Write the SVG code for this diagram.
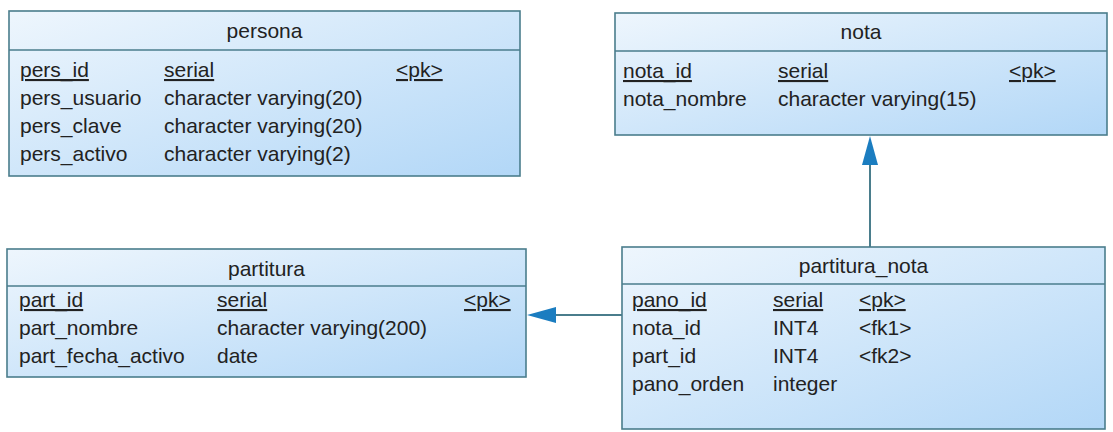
<svg xmlns="http://www.w3.org/2000/svg" width="1113" height="432" viewBox="0 0 1113 432">
<defs>
<linearGradient id="bg" x1="0" y1="0" x2="1" y2="1">
<stop offset="0" stop-color="#eef6fd"/>
<stop offset="1" stop-color="#b2d7f7"/>
</linearGradient>
<style>
.box{fill:url(#bg);stroke:#4a7d8c;stroke-width:1.6}
.div{stroke:#4a7d8c;stroke-width:1.6}
text{font-family:"Liberation Sans",Arial,sans-serif;font-size:21px;fill:#222}
.t{text-anchor:middle}
.u{text-decoration:underline}
.conn{stroke:#4a7d8c;stroke-width:2;fill:none}
.ah{fill:#1b7dc0}
</style>
</defs>
<rect width="1113" height="432" fill="#ffffff"/>
<g id="connectors">
<line class="conn" x1="870" y1="160" x2="870" y2="247"/>
<polygon class="ah" points="870,136 878,165 862,165"/>
<line class="conn" x1="552" y1="315" x2="622" y2="315"/>
<polygon class="ah" points="527,315 556,307 556,323"/>
</g>
<g id="persona">
<rect class="box" x="9" y="11" width="511" height="165"/>
<line class="div" x1="9" y1="50" x2="520" y2="50"/>
<text class="t" x="264.5" y="38">persona</text>
<text class="u" x="20" y="77">pers_id</text><text class="u" x="164" y="77">serial</text><text class="u" x="396" y="77">&lt;pk&gt;</text>
<text x="20" y="105">pers_usuario</text><text x="164" y="105">character varying(20)</text>
<text x="20" y="133">pers_clave</text><text x="164" y="133">character varying(20)</text>
<text x="20" y="161">pers_activo</text><text x="164" y="161">character varying(2)</text>
</g>
<g id="nota">
<rect class="box" x="615" y="13" width="492" height="122"/>
<line class="div" x1="615" y1="51" x2="1107" y2="51"/>
<text class="t" x="861" y="39">nota</text>
<text class="u" x="623" y="78">nota_id</text><text class="u" x="778" y="78">serial</text><text class="u" x="1009" y="78">&lt;pk&gt;</text>
<text x="623" y="106">nota_nombre</text><text x="778" y="106">character varying(15)</text>
</g>
<g id="partitura">
<rect class="box" x="7" y="249" width="519" height="128"/>
<line class="div" x1="7" y1="286" x2="526" y2="286"/>
<text class="t" x="266.5" y="276">partitura</text>
<text class="u" x="19" y="307">part_id</text><text class="u" x="217" y="307">serial</text><text class="u" x="464" y="307">&lt;pk&gt;</text>
<text x="19" y="335">part_nombre</text><text x="217" y="335">character varying(200)</text>
<text x="19" y="363">part_fecha_activo</text><text x="217" y="363">date</text>
</g>
<g id="partitura_nota">
<rect class="box" x="622" y="247" width="483" height="182"/>
<line class="div" x1="622" y1="284" x2="1105" y2="284"/>
<text class="t" x="863.5" y="273">partitura_nota</text>
<text class="u" x="632" y="307">pano_id</text><text class="u" x="773" y="307">serial</text><text class="u" x="859" y="307">&lt;pk&gt;</text>
<text x="632" y="335">nota_id</text><text x="773" y="335">INT4</text><text x="859" y="335">&lt;fk1&gt;</text>
<text x="632" y="363">part_id</text><text x="773" y="363">INT4</text><text x="859" y="363">&lt;fk2&gt;</text>
<text x="632" y="391">pano_orden</text><text x="773" y="391">integer</text>
</g>
</svg>
